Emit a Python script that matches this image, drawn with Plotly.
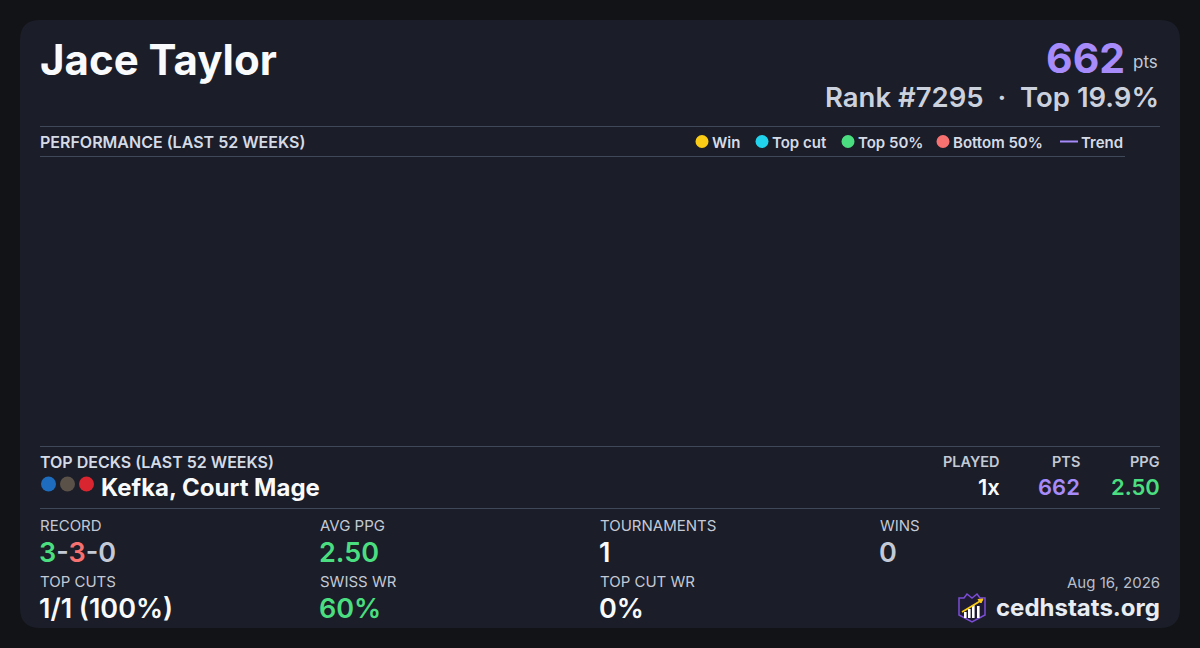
import plotly.graph_objects as go

# player summary
player_name = "Jace Taylor"
total_points = 662
rank = 7295
top_percent = 19.9

# performance legend (no games plotted in the window)
legend_labels = ["Win", "Top cut", "Top 50%", "Bottom 50%", "Trend"]
legend_colors = ["#facc15", "#22d3ee", "#4ade80", "#f87171", "#a78bfa"]

# top deck
deck_name = "Kefka, Court Mage"
deck_colors = ["#1d6cbd", "#5a5148", "#d8252f"]
deck_played = 1
deck_points = 662
deck_ppg = 2.50

# record / stats
record = [3, 3, 0]
stat_labels = ["RECORD", "AVG PPG", "TOURNAMENTS", "WINS", "TOP CUTS", "SWISS WR", "TOP CUT WR"]
avg_ppg = 2.50
tournaments = 1
wins = 0
top_cuts = [1, 1]
swiss_wr = 60
top_cut_wr = 0
report_date = "Aug 16, 2026"
site = "cedhstats.org"

BG = "#121317"
CARD = "#1b1d28"
LINE = "#3e4859"
WHITE = "#f8fafc"
LABEL = "#c3cad6"
PURPLE = "#a78bfa"
GREEN = "#4ade80"
RED = "#f87171"
FONT = "Inter"

fig = go.Figure()

shapes = []
annotations = []


def text(x, y, s, size, color, weight=400, anchor="left", height=None):
    # annotation boxes carry ~2px of padding, pull them back to the edge
    x = x - 2 if anchor == "left" else x + 2
    a = dict(x=x, y=y, xref="x", yref="y", text=s, showarrow=False,
             xanchor=anchor, yanchor="middle",
             font=dict(family=FONT, size=size, color=color, weight=weight))
    if height:
        a["height"] = height
    annotations.append(a)


def hline(y, x0, x1):
    shapes.append(dict(type="line", xref="x", yref="y", x0=x0, x1=x1, y0=y, y1=y,
                       line=dict(color=LINE, width=1)))


# card background
r = 20
shapes.append(dict(type="path", xref="x", yref="y", layer="below",
                   path=f"M {20+r},20 L {1180-r},20 Q 1180,20 1180,{20+r} L 1180,{628-r} "
                        f"Q 1180,628 {1180-r},628 L {20+r},628 Q 20,628 20,{628-r} "
                        f"L 20,{20+r} Q 20,20 {20+r},20 Z",
                   fillcolor=CARD, line=dict(width=0)))

# header
text(40, 59, player_name, 42, WHITE, 700)
text(1125, 57.5, str(total_points), 41, PURPLE, 700, "right", height=40)
text(1133, 62, "pts", 17, LABEL, 400)
text(1159, 97, f"Rank #{rank}  ·  Top {top_percent}%", 27.5, "#cbd2de", 600, "right", height=28)

# performance section
hline(126.5, 40, 1160)
hline(156.5, 40, 1125)
text(40, 142, "PERFORMANCE (LAST 52 WEEKS)", 16, "#d5dbe6", 600)

legend_x = [702, 762, 848, 943, 1069]
for lbl, col, lx in zip(legend_labels, legend_colors, legend_x):
    if lbl == "Trend":
        shapes.append(dict(type="line", xref="x", yref="y", x0=lx - 9, x1=lx + 9, y0=141.5, y1=141.5,
                           line=dict(color=col, width=2)))
        text(lx + 12, 142, lbl, 15, "#d5dbe6", 600)
    else:
        shapes.append(dict(type="circle", xref="x", yref="y", x0=lx - 6.5, x1=lx + 6.5,
                           y0=135, y1=148, fillcolor=col, line=dict(width=0)))
        text(lx + 10, 142, lbl, 15, "#d5dbe6", 600)

# empty performance plot (no games in the window)
for lbl, col in zip(legend_labels, legend_colors):
    if lbl == "Trend":
        fig.add_trace(go.Scatter(x=[None], y=[None], mode="lines", name=lbl,
                                 line=dict(color=col), xaxis="x2", yaxis="y2", showlegend=False))
    else:
        fig.add_trace(go.Scatter(x=[None], y=[None], mode="markers", name=lbl,
                                 marker=dict(color=col), xaxis="x2", yaxis="y2", showlegend=False))

# top decks
hline(446.5, 40, 1160)
text(40, 462, "TOP DECKS (LAST 52 WEEKS)", 16, "#d5dbe6", 600)
fig.add_trace(go.Scatter(x=[48.5 + 19 * i for i in range(len(deck_colors))],
                         y=[484] * len(deck_colors), mode="markers",
                         marker=dict(size=15, color=deck_colors, line=dict(width=0)),
                         hoverinfo="skip", showlegend=False))
text(101, 487, deck_name, 24, WHITE, 700)
for hx, hd, val, col in [(1000, "PLAYED", f"{deck_played}x", WHITE),
                          (1080, "PTS", str(deck_points), PURPLE),
                          (1160, "PPG", f"{deck_ppg:.2f}", GREEN)]:
    text(hx, 461, hd, 14.5, LABEL, 600, "right")
    text(hx, 487, val, 22, col, 600, "right")
hline(508.5, 40, 1160)

# stats grid
record_txt = (f"<span style='color:{GREEN}'>{record[0]}</span>-"
              f"<span style='color:{RED}'>{record[1]}</span>-{record[2]}")
stat_values = [(record_txt, LABEL), (f"{avg_ppg:.2f}", GREEN), (str(tournaments), WHITE),
               (str(wins), LABEL),
               (f"{top_cuts[0]}/{top_cuts[1]} ({top_cuts[0] / top_cuts[1] * 100:.0f}%)", WHITE),
               (f"{swiss_wr}%", GREEN), (f"{top_cut_wr}%", WHITE)]
col_x = [40, 320, 600, 880]
for i, (lbl, (val, col)) in enumerate(zip(stat_labels, stat_values)):
    cx = col_x[i % 4]
    row = i // 4
    text(cx, 525 + 56 * row, lbl, 15, LABEL, 400)
    text(cx - 1, 552 + 56 * row, val, 27, col, 600)

# footer
text(1160, 582, report_date, 15, "#b8bfcc", 400, "right")
text(1160, 607, site, 24, "#e8ecf3", 700, "right")

# logo
shapes.append(dict(type="path", xref="x", yref="y",
                   path="M 959,598 L 964,598 L 967,594 L 972,598 L 977,594 L 980,598 L 985,598 "
                        "L 985,615 L 972,622 L 959,615 Z",
                   fillcolor="#1f1b33", line=dict(color="#7c4dd6", width=1.5)))
for bx, btop in [(964, 612), (968, 609), (972, 605), (977, 606)]:
    shapes.append(dict(type="rect", xref="x", yref="y", x0=bx, x1=bx + 2.6, y0=btop, y1=618,
                       fillcolor="#ffffff", line=dict(width=0)))
shapes.append(dict(type="line", xref="x", yref="y", x0=962, y0=612, x1=982, y1=600,
                   line=dict(color="#facc15", width=1.8)))
shapes.append(dict(type="path", xref="x", yref="y", path="M 983,599 L 978,599.5 L 981,603 Z",
                   fillcolor="#facc15", line=dict(color="#facc15", width=1)))

fig.update_layout(
    width=1200, height=648,
    margin=dict(l=0, r=0, t=0, b=0),
    paper_bgcolor=BG, plot_bgcolor="rgba(0,0,0,0)",
    showlegend=False,
    xaxis=dict(range=[0, 1200], domain=[0, 1], visible=False, fixedrange=True),
    yaxis=dict(range=[648, 0], domain=[0, 1], visible=False, fixedrange=True),
    xaxis2=dict(domain=[40 / 1200, 1125 / 1200], anchor="y2", visible=False),
    yaxis2=dict(domain=[1 - 446 / 648, 1 - 160 / 648], anchor="x2", visible=False),
    shapes=shapes,
    annotations=annotations,
)

fig.write_html("out.html", config={"displayModeBar": False},
               post_script="document.body.style.margin='0';document.body.style.background='#121317';")
